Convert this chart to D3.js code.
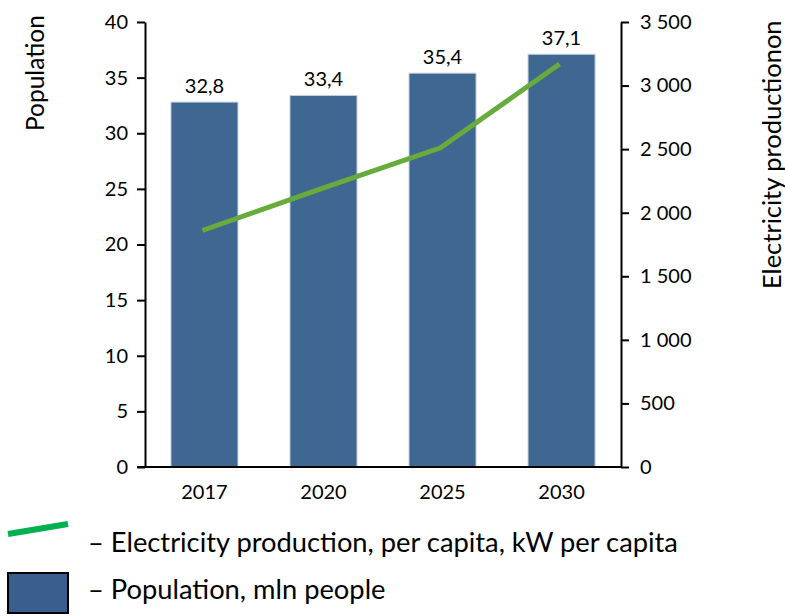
<!DOCTYPE html>
<html lang="en">
<head>
<meta charset="UTF-8">
<title>Population and electricity production</title>
<style>
    body { margin: 0; background: #fff; }
    svg { display: block; font-family: Lato, "Open Sans", sans-serif; }
    .axis path, .axis line { stroke: #000; stroke-width: 2px; }
    .axis text { font-size: 20px; fill: #000; font-family: Lato, sans-serif; }
</style>
</head>
<body>
<div id="chart"></div>
<script src="https://d3js.org/d3.v7.min.js"></script>
<script>

    // data
    var years = ["2017", "2020", "2025", "2030"];
    var population = [32.8, 33.4, 35.4, 37.1];          // mln people
    var electricity = [1860, 2190, 2510, 3170];          // kW per capita
    var popTicks = [0, 5, 10, 15, 20, 25, 30, 35, 40];
    var elecTicks = [0, 500, 1000, 1500, 2000, 2500, 3000, 3500];

    var width = 785,
        height = 616;

    var svg = d3.select("#chart").append("svg")
        .attr("width", width)
        .attr("height", height);

    var x = d3.scaleBand()
        .domain(years)
        .range([145, 621])
        .paddingInner(0.437)
        .paddingOuter(0.218);

    var yLeft = d3.scaleLinear().domain([0, 40]).range([467, 22]);
    var yRight = d3.scaleLinear().domain([0, 3500]).range([467, 22]);

    var fmtComma = function (d) { return String(d).replace(".", ","); };
    var fmtSpace = function (d) { return d3.format(",")(d).replace(/,/g, "\u00a0"); };

    // bars
    svg.append("g")
        .selectAll("rect")
        .data(population)
        .enter().append("rect")
        .attr("x", function (d, i) { return x(years[i]); })
        .attr("y", function (d) { return yLeft(d); })
        .attr("width", x.bandwidth())
        .attr("height", function (d) { return yLeft(0) - yLeft(d); })
        .attr("fill", "#3e6792")
        .attr("stroke", "#c5d0dd")
        .attr("stroke-width", 1);

    // value labels
    svg.append("g")
        .selectAll("text")
        .data(population)
        .enter().append("text")
        .attr("x", function (d, i) { return x(years[i]) + x.bandwidth() / 2; })
        .attr("y", function (d) { return yLeft(d) - 9; })
        .attr("text-anchor", "middle")
        .attr("font-size", "20px")
        .text(fmtComma);

    // line
    var line = d3.line()
        .x(function (d, i) { return x(years[i]) + x.bandwidth() / 2 - 2; })
        .y(function (d) { return yRight(d); });

    svg.append("path")
        .datum(electricity)
        .attr("d", line)
        .attr("fill", "none")
        .attr("stroke", "#66ab3b")
        .attr("stroke-width", 5);

    // axes
    svg.append("g")
        .attr("class", "axis")
        .attr("transform", "translate(145,0)")
        .call(d3.axisLeft(yLeft).tickValues(popTicks).tickSize(8).tickPadding(9).tickSizeOuter(0));

    svg.append("g")
        .attr("class", "axis")
        .attr("transform", "translate(621,0)")
        .call(d3.axisRight(yRight).tickValues(elecTicks).tickSize(8).tickPadding(11)
            .tickSizeOuter(0).tickFormat(fmtSpace));

    svg.append("g")
        .attr("class", "axis")
        .attr("transform", "translate(0,467)")
        .call(d3.axisBottom(x).tickSize(0).tickPadding(18))
        .select(".domain").attr("d", "M137,0H621");

    // axis titles
    svg.append("text")
        .attr("transform", "translate(44,131) rotate(-90)")
        .attr("font-size", "24.5px")
        .text("Population");

    svg.append("text")
        .attr("transform", "translate(781,289) rotate(-90)")
        .attr("font-size", "25.5px")
        .text("Electricity productionon");

    // legend
    var legend = svg.append("g");
    legend.append("line")
        .attr("x1", 8).attr("y1", 534)
        .attr("x2", 68).attr("y2", 524)
        .attr("stroke", "#00b050")
        .attr("stroke-width", 6);
    legend.append("rect")
        .attr("x", 8).attr("y", 573)
        .attr("width", 60).attr("height", 40)
        .attr("fill", "#3a5f8f")
        .attr("stroke", "#000")
        .attr("stroke-width", 2);
    legend.append("text")
        .attr("x", 88).attr("y", 552)
        .attr("font-size", "27.3px")
        .text("\u2013 Electricity production, per capita, kW per capita");
    legend.append("text")
        .attr("x", 88).attr("y", 599)
        .attr("font-size", "27.3px")
        .text("\u2013 Population, mln people");

</script>
</body>
</html>
